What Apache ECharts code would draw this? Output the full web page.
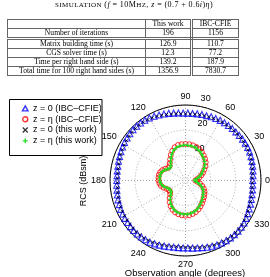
<!DOCTYPE html>
<html>
<head>
<meta charset="utf-8">
<script src="https://cdn.jsdelivr.net/npm/echarts@6/dist/echarts.min.js"></script>
<style>
html, body { margin: 0; padding: 0; background: #fff; }
#wrap { position: relative; width: 270px; height: 277px; overflow: hidden; }
#chart { position: absolute; left: 0; top: 0; width: 270px; height: 277px; }
#caption { position: absolute; left: 55px; top: 0; white-space: nowrap;
  font: 8px 'Liberation Serif', serif; line-height: 10px; }
.sc { font-size: 7px; }
#tbl { position: absolute; left: 7px; top: 19px; border-collapse: collapse; table-layout: fixed;
  font: 7.6px 'Liberation Serif', serif; }
#tbl td { border: 1px solid #666; padding: 0; height: 8px; line-height: 8px; text-align: center; white-space: nowrap; }
#tbl td.c2 { border-right: 3px double #666; }
#tbl tr.r1 td { border-bottom: 3px double #666; }
</style>
</head>
<body>
<div id="wrap">
  <div id="chart"></div>
  <div id="caption"><span class="sc">SIMULATION</span> (<i>f</i> = 10M<span class="sc">HZ</span>, <i>z</i> = (0.7 + 0.6<i>i</i>)<i>η</i>)</div>
  <table id="tbl"></table>
</div>
<script>
// table contents
const tableHead = ['', 'This work', 'IBC-CFIE']
const tableRows = [
  ['Number of iterations', '196', '1156'],
  ['Matrix building time (s)', '126.9', '110.7'],
  ['CGS solver time (s)', '12.3', '77.2'],
  ['Time per right hand side (s)', '139.2', '187.9'],
  ['Total time for 100 right hand sides (s)', '1356.9', '7830.7']
]
const colWidths = [138, 46, 47]

// polar plot data (RCS in dBsm)
const angleTicks = [0, 30, 60, 90, 120, 150, 180, 210, 240, 270, 300, 330]
const radiusTicks = [10, 20, 30]

// z = 0 (IBC-CFIE), every 4 degrees from 0
const blueValues = [
  26.7, 26.9, 27.1, 27.3, 27.5, 27.7, 27.9, 28.0, 28.0, 28.0,
  27.9, 27.8, 27.8, 27.7, 27.7, 27.6, 27.4, 27.3, 27.1, 27.0,
  26.9, 26.8, 26.8, 26.8, 27.0, 27.2, 27.5, 27.8, 28.1, 28.4,
  28.7, 28.9, 29.0, 29.0, 29.0, 28.9, 28.7, 28.6, 28.3, 28.1,
  27.9, 27.7, 27.5, 27.4, 27.3, 27.3, 27.4, 27.5, 27.7, 27.9,
  28.0, 28.2, 28.3, 28.4, 28.4, 28.5, 28.6, 28.6, 28.5, 28.4,
  28.3, 28.0, 27.7, 27.4, 27.1, 26.9, 26.8, 26.8, 26.8, 27.0,
  27.2, 27.5, 27.9, 28.2, 28.5, 28.7, 28.9, 29.0, 29.0, 29.0,
  28.9, 28.7, 28.4, 28.0, 27.7, 27.5, 27.2, 27.0, 26.9, 26.8
]
// z = 0 (this work), every 4 degrees from 2
const blackValues = [
  26.5, 26.7, 26.9, 27.1, 27.3, 27.5, 27.6, 27.7, 27.7, 27.7,
  27.6, 27.5, 27.5, 27.4, 27.3, 27.2, 27.0, 26.9, 26.8, 26.7,
  26.6, 26.5, 26.5, 26.6, 26.8, 27.0, 27.3, 27.6, 27.9, 28.2,
  28.4, 28.6, 28.7, 28.7, 28.6, 28.5, 28.3, 28.1, 27.9, 27.7,
  27.5, 27.3, 27.1, 27.0, 27.0, 27.0, 27.1, 27.3, 27.5, 27.6,
  27.8, 27.9, 28.0, 28.1, 28.1, 28.2, 28.3, 28.2, 28.2, 28.0,
  27.8, 27.5, 27.2, 26.9, 26.7, 26.5, 26.5, 26.5, 26.6, 26.8,
  27.1, 27.4, 27.7, 28.0, 28.3, 28.5, 28.6, 28.7, 28.7, 28.6,
  28.5, 28.2, 27.9, 27.6, 27.3, 27.1, 26.9, 26.7, 26.6, 26.5
]
// z = eta (IBC-CFIE), every 6 degrees from 0
const redValues = [
  3.9, 4.6, 5.6, 6.6, 7.6, 8.6, 9.8, 10.8, 11.6, 12.3,
  13.0, 13.6, 14.0, 14.3, 14.5, 14.5, 14.5, 14.4, 13.9, 12.9,
  11.7, 10.4, 9.3, 8.5, 8.5, 9.3, 10.1, 10.6, 10.8, 10.8,
  10.7, 10.4, 10.0, 9.2, 8.2, 7.6, 7.6, 8.2, 9.4, 10.7,
  11.8, 12.7, 13.3, 13.7, 13.9, 14.0, 13.9, 13.6, 13.2, 12.6,
  11.9, 11.2, 10.5, 9.9, 9.3, 8.7, 8.0, 7.0, 5.9, 4.7
]
// z = eta (this work), every 6 degrees from 3
const greenValues = [
  3.7, 4.6, 5.6, 6.6, 7.6, 8.7, 9.8, 10.7, 11.4, 12.1,
  12.8, 13.3, 13.7, 13.9, 14.0, 14.0, 13.9, 13.6, 12.9, 11.8,
  10.6, 9.3, 8.3, 7.9, 8.4, 9.2, 9.9, 10.2, 10.3, 10.3,
  10.1, 9.7, 9.0, 8.0, 7.3, 7.1, 7.3, 8.3, 9.6, 10.8,
  11.7, 12.5, 13.0, 13.3, 13.4, 13.4, 13.2, 12.9, 12.4, 11.7,
  11.0, 10.3, 9.6, 9.0, 8.5, 7.8, 6.9, 5.9, 4.8, 3.8
]

function toPolar (values, start, step) {
  return values.map((v, i) => [v, start + i * step])
}

// caption: spread the letters so the line spans x 55..213 like the original
const caption = document.getElementById('caption')
const capTarget = 158
const capChars = caption.textContent.length
const capWidth = caption.getBoundingClientRect().width
caption.style.letterSpacing = ((capTarget - capWidth) / capChars) + 'px'

// build the table
const tbl = document.getElementById('tbl')
const colgroup = document.createElement('colgroup')
colWidths.forEach(w => {
  const c = document.createElement('col')
  c.style.width = w + 'px'
  colgroup.appendChild(c)
})
tbl.appendChild(colgroup)
;[tableHead].concat(tableRows).forEach((row, ri) => {
  const tr = document.createElement('tr')
  if (ri === 1) tr.className = 'r1'
  row.forEach((cell, ci) => {
    const td = document.createElement('td')
    if (ci === 1) td.className = 'c2'
    td.textContent = cell
    tr.appendChild(td)
  })
  tbl.appendChild(tr)
})

const font = 'Liberation Sans'
const dotted = { color: '#a8a8a8', width: 1, type: [1, 2] }
const xPath = 'path://M0,0L10,10M10,0L0,10'
const plusPath = 'path://M5,0L5,10M0,5L10,5'
const names = ['z = 0 (IBC–CFIE)', 'z = η (IBC–CFIE)', 'z = 0 (this work)', 'z = η (this work)']

const chart = echarts.init(document.getElementById('chart'))
chart.setOption({
  animation: false,
  legend: {
    orient: 'vertical',
    left: 20,
    top: 103,
    padding: 0,
    itemWidth: 5.5,
    itemHeight: 5,
    itemGap: 0,
    borderWidth: 0,
    backgroundColor: 'transparent',
    textStyle: { fontFamily: font, fontSize: 9, lineHeight: 10.8, color: '#000' },
    data: [
      { name: names[0], icon: 'triangle', itemStyle: { color: 'none', borderColor: '#0000ff', borderWidth: 1.4 } },
      { name: names[1], icon: 'circle', itemStyle: { color: 'none', borderColor: '#ff0000', borderWidth: 1.4 } },
      { name: names[2], icon: xPath, itemStyle: { color: 'none', borderColor: '#000', borderWidth: 1.3 } },
      { name: names[3], icon: plusPath, itemStyle: { color: 'none', borderColor: '#22dd22', borderWidth: 1.3 } }
    ]
  },
  polar: [
    { center: [185.5, 180.5], radius: 75.5 },
    { center: [185.5, 180.5], radius: [8.1, 83.7] }
  ],
  angleAxis: [
    {
      polarIndex: 0,
      type: 'value',
      min: 0,
      max: 360,
      interval: 30,
      startAngle: 0,
      clockwise: false,
      axisLine: { lineStyle: { color: '#000', width: 1 } },
      axisTick: { show: false },
      axisLabel: {
        margin: 4,
        fontFamily: font,
        fontSize: 9,
        color: '#000',
        formatter: v => (angleTicks.indexOf(v) >= 0 ? String(v) : '')
      },
      splitLine: { show: true, lineStyle: dotted }
    },
    {
      polarIndex: 1,
      type: 'value',
      min: 0,
      max: 360,
      startAngle: 83,
      clockwise: false,
      axisLine: { show: false },
      axisTick: { show: false },
      axisLabel: { show: false },
      splitLine: { show: false }
    }
  ],
  radiusAxis: [
    {
      polarIndex: 0,
      min: 0,
      max: 30,
      interval: 10,
      axisLine: { show: false },
      axisTick: { show: false },
      axisLabel: { show: false },
      splitLine: { show: true, lineStyle: dotted }
    },
    {
      polarIndex: 1,
      min: 0,
      max: 30,
      interval: 10,
      axisLine: { show: false },
      axisTick: { show: false },
      splitLine: { show: false },
      axisLabel: {
        margin: -10,
        align: 'center',
        verticalAlign: 'middle',
        fontFamily: font,
        fontSize: 9,
        color: '#000',
        formatter: v => (radiusTicks.indexOf(v) >= 0 ? String(v) : '')
      }
    }
  ],
  graphic: [
    {
      // legend frame
      type: 'rect',
      z: -1,
      shape: { x: 9.5, y: 99.5, width: 92.5, height: 56 },
      style: { fill: '#fff', stroke: '#000', lineWidth: 1 }
    },
    {
      type: 'text',
      x: 84,
      y: 181,
      rotation: Math.PI / 2,
      style: { text: 'RCS (dBsm)', fontFamily: font, fontSize: 9, fill: '#000', align: 'center', verticalAlign: 'middle' }
    },
    {
      type: 'text',
      x: 185,
      y: 273,
      style: { text: 'Observation angle (degrees)', fontFamily: font, fontSize: 9.5, fill: '#000', align: 'center', verticalAlign: 'middle' }
    }
  ],
  series: [
    {
      name: names[0],
      type: 'scatter',
      coordinateSystem: 'polar',
      polarIndex: 0,
      symbol: 'triangle',
      symbolSize: 6,
      itemStyle: { color: 'none', borderColor: '#0000ff', borderWidth: 1.1 },
      data: toPolar(blueValues, 0, 4)
    },
    {
      name: names[1],
      type: 'scatter',
      coordinateSystem: 'polar',
      polarIndex: 0,
      symbol: 'circle',
      symbolSize: 5,
      itemStyle: { color: 'none', borderColor: '#ff0000', borderWidth: 1 },
      data: toPolar(redValues, 0, 6)
    },
    {
      name: names[2],
      type: 'scatter',
      coordinateSystem: 'polar',
      polarIndex: 0,
      symbol: xPath,
      symbolSize: 3,
      itemStyle: { color: 'none', borderColor: '#000', borderWidth: 1 },
      data: toPolar(blackValues, 2, 4)
    },
    {
      name: names[3],
      type: 'line',
      coordinateSystem: 'polar',
      polarIndex: 0,
      smooth: true,
      symbol: plusPath,
      symbolSize: 4,
      showSymbol: true,
      lineStyle: { color: '#22dd22', width: 1.5 },
      itemStyle: { color: 'none', borderColor: '#22dd22', borderWidth: 1 },
      data: toPolar(greenValues, 3, 6)
    }
  ]
})
</script>
</body>
</html>
